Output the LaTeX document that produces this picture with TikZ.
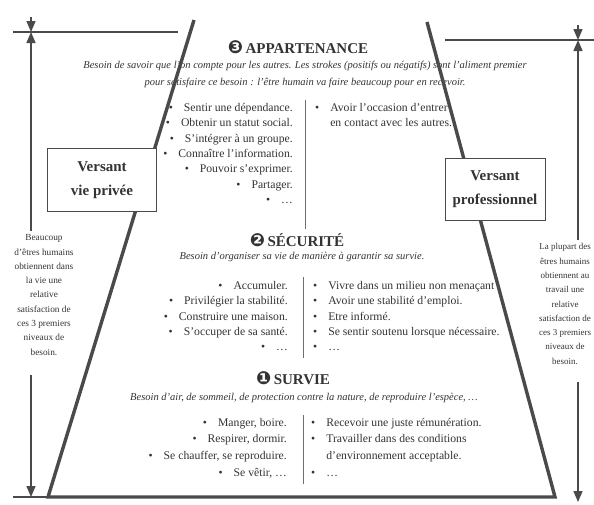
\documentclass[tikz,border=0pt]{standalone}
\usepackage{fontspec}
\setmainfont{Liberation Serif}
\newfontfamily\dingfont{DejaVu Sans}
\usetikzlibrary{arrows.meta,positioning}
\definecolor{Ink}{HTML}{333333}
\definecolor{Rule}{HTML}{4A4A4A}
\tikzset{
  edgeline/.style={line width=3.4pt,draw=Rule},
  dimline/.style={line width=1.4pt,draw=Rule},
  dimarrow/.style={-{Triangle[length=11pt,width=9pt]},line width=1.4pt,draw=Rule},
  divider/.style={line width=0.7pt,draw=Rule!80},
  heading/.style={inner sep=0pt,text=Ink,font=\fontsize{15}{17}\selectfont\bfseries},
  gloss/.style={inner sep=0pt,align=center,text=Ink,font=\fontsize{10.5}{17}\selectfont\itshape},
  leftcol/.style={anchor=north east,inner sep=0pt,align=right,text=Ink,font=\fontsize{11.7}{15.4}\selectfont},
  rightcol/.style={anchor=north west,inner sep=0pt,align=left,text=Ink,font=\fontsize{11.7}{15.4}\selectfont},
  sidebox/.style={draw=Rule,line width=1pt,fill=white,align=center,text=Ink,
    font=\fontsize{15}{24}\selectfont\bfseries},
  sidenote/.style={align=center,inner xsep=0pt,inner ysep=3pt,text=Ink,font=\fontsize{9.3}{14.3}\selectfont},
}
\newcommand{\itm}{\textbullet\hspace{11pt}}
\newcommand{\noitm}{\phantom{\textbullet}\hspace{11pt}}
\newcommand{\lvl}[1]{{\dingfont\fontsize{18}{18}\selectfont #1}\,}

\begin{document}
\begin{tikzpicture}[x=1pt,y=-1pt]
  \useasboundingbox (0,0) rectangle (594,504);
  % level 3
  \node[heading] (h3) at (298,47) {\lvl{❸}APPARTENANCE};
  \node[gloss] (g3) at (305,74.5) {Besoin de savoir que l'on compte pour les autres. Les strokes (positifs ou négatifs) sont l'aliment premier\\
    pour satisfaire ce besoin : l'être humain va faire beaucoup pour en recevoir.};
  \node[leftcol] (a3l) at (293,103) {\itm Sentir une dépendance.\\ \itm Obtenir un statut social.\\ \itm S'intégrer à un groupe.\\
    \itm Connaître l'information.\\ \itm Pouvoir s'exprimer.\\ \itm Partager.\\ \itm \ldots};
  \node[rightcol] (a3r) at (315,103) {\itm Avoir l'occasion d'entrer\\ \noitm en contact avec les autres.};
  \coordinate (d3a) at (305,100);
  \coordinate (d3b) at (305,229);
  \draw[divider] (d3a) -- (d3b);
  % level 2
  \node[heading] (h2) at (297,240) {\lvl{❷}SÉCURITÉ};
  \node[gloss] (g2) at (302,257) {Besoin d'organiser sa vie de manière à garantir sa survie.};
  \node[leftcol] (a2l) at (288,281) {\itm Accumuler.\\ \itm Privilégier la stabilité.\\ \itm Construire une maison.\\
    \itm S'occuper de sa santé.\\ \itm \ldots};
  \node[rightcol] (a2r) at (313,281) {\itm Vivre dans un milieu non menaçant\\ \itm Avoir une stabilité d'emploi.\\ \itm Etre informé.\\
    \itm Se sentir soutenu lorsque nécessaire.\\ \itm \ldots};
  \coordinate (d2a) at (303,277);
  \coordinate (d2b) at (303,358);
  \draw[divider] (d2a) -- (d2b);
  % level 1
  \node[heading] (h1) at (293,378) {\lvl{❶}SURVIE};
  \node[gloss] (g1) at (304,398) {Besoin d'air, de sommeil, de protection contre la nature, de reproduire l'espèce, \ldots};
  \node[leftcol,font=\fontsize{11.7}{16.6}\selectfont] (a1l) at (287,418) {\itm Manger, boire.\\ \itm Respirer, dormir.\\
    \itm Se chauffer, se reproduire.\\ \itm Se vêtir, \ldots};
  \node[rightcol,font=\fontsize{11.7}{16.6}\selectfont] (a1r) at (311,418) {\itm Recevoir une juste rémunération.\\
    \itm Travailler dans des conditions\\ \noitm d'environnement acceptable.\\ \itm \ldots};
  \coordinate (d1a) at (303,415);
  \coordinate (d1b) at (303,484);
  \draw[divider] (d1a) -- (d1b);
  % pyramid
  \coordinate (pyrtl) at (194,20);
  \coordinate (pyrbl) at (48,497);
  \coordinate (pyrbr) at (555,497);
  \coordinate (pyrtr) at (427,22);
  \draw[edgeline] (pyrtl) -- (pyrbl) -- (pyrbr) -- (pyrtr);
  \node[sidebox,minimum width=109pt,minimum height=63pt] (vpriv) at (102,180) {Versant\\vie privée};
  \node[sidebox,minimum width=100pt,minimum height=62pt] (vpro) at (495,189) {Versant\\professionnel};
  % left measure
  \coordinate (lstub) at (31,17);
  \coordinate (ltop) at (31,32);
  \coordinate (lbot) at (31,497);
  \coordinate (lend) at (13,497);
  \draw[dimline] (13,32) -- (178,32);
  \draw[dimline] (lend) -- (pyrbl);
  \node[sidenote] (lnote) at (44,295) {Beaucoup\\d'êtres humains\\obtiennent dans\\la vie une\\relative\\satisfaction de\\ces 3 premiers\\niveaux de\\besoin.};
  \draw[dimarrow] (lstub) -- (ltop);
  \draw[dimarrow] (lnote.north -| ltop) -- (ltop);
  \draw[dimarrow,shorten <=16pt] (lnote.south -| lbot) -- (lbot);
  % right measure
  \coordinate (rstub) at (578,25);
  \coordinate (rtop) at (578,40);
  \coordinate (rbot) at (578,502);
  \draw[dimline] (445,40) -- (594,40);
  \node[sidenote,font=\fontsize{9}{14.3}\selectfont] (rnote) at (565,304) {La plupart des\\êtres humains\\obtiennent au\\travail une\\relative\\satisfaction de\\ces 3 premiers\\niveaux de\\besoin.};
  \draw[dimarrow] (rstub) -- (rtop);
  \draw[dimarrow] (rnote.north -| rtop) -- (rtop);
  \draw[dimarrow,shorten <=14pt] (rnote.south -| rbot) -- (rbot);
\end{tikzpicture}
\end{document}
